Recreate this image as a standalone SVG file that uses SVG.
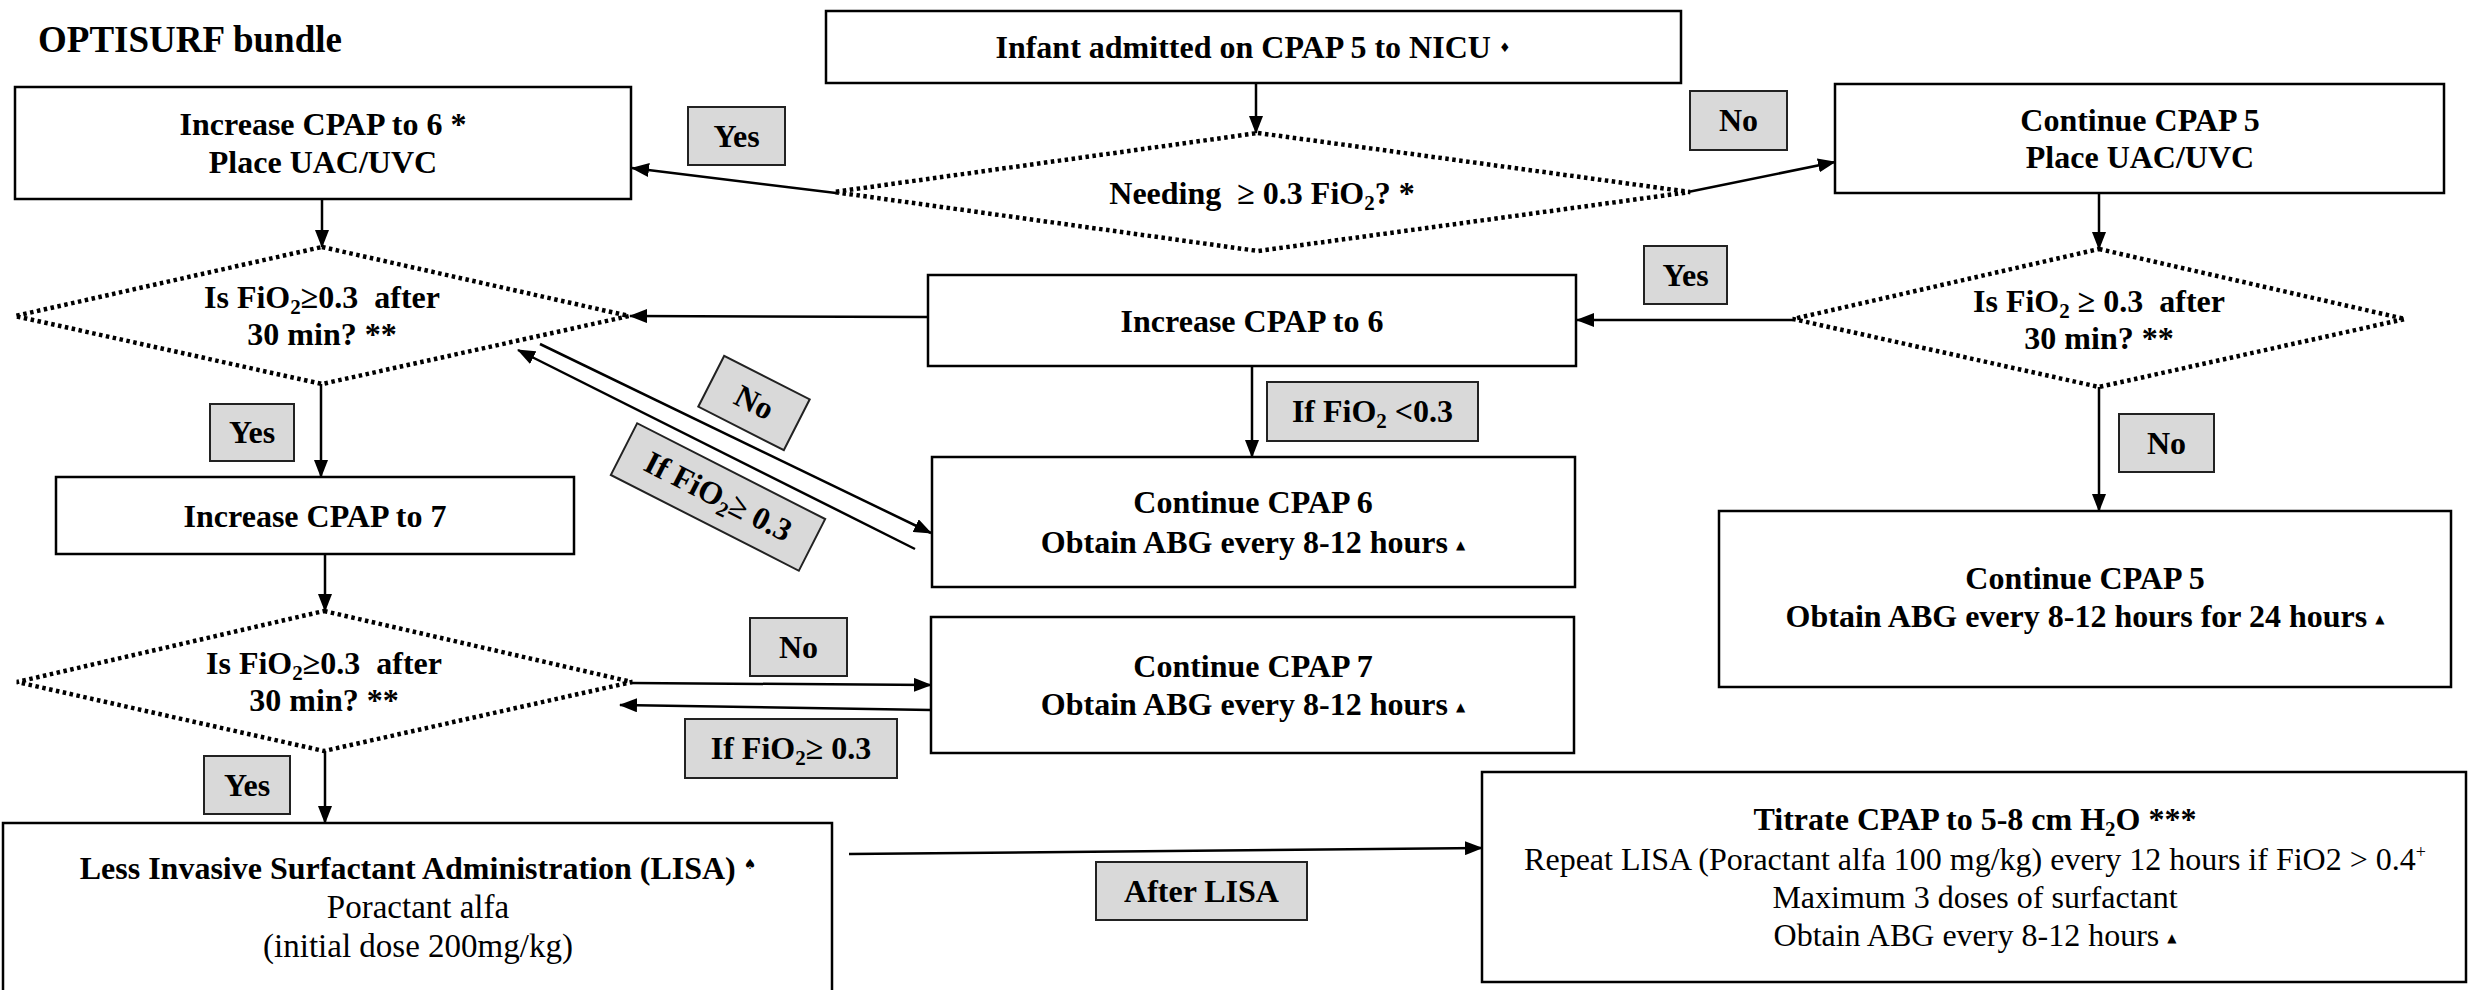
<svg xmlns="http://www.w3.org/2000/svg" width="2478" height="990" viewBox="0 0 2478 990">
<defs>
<marker id="ah" viewBox="0 0 18 14" refX="17" refY="7" markerWidth="18" markerHeight="14" markerUnits="userSpaceOnUse" orient="auto">
<path d="M0,0 L18,7 L0,14 z" fill="#000"/>
</marker>
<style>
.box{fill:#fff;stroke:#000;stroke-width:2.5}
.dia{fill:#fff;stroke:#000;stroke-width:4.5;stroke-dasharray:3.5 3.5}
.lbl{fill:#d9d9d9;stroke:#222;stroke-width:2}
.t{font-family:"Liberation Serif","Times New Roman",serif;font-size:32px;font-weight:bold;text-anchor:middle;fill:#000;white-space:pre}
.r{font-weight:normal}
.s{font-size:21px}
.sym{font-family:"DejaVu Sans",sans-serif;font-size:12px;font-weight:normal}
.c{fill:none;stroke:#000;stroke-width:2.5;marker-end:url(#ah)}
</style>
</defs>
<rect width="2478" height="990" fill="#fff"/>

<g id="title"><text class="t" x="38" y="52" style="font-size:37px;text-anchor:start">OPTISURF bundle</text></g>

<g id="nodes">
<g id="start">
<rect class="box" x="826" y="11" width="855" height="72"/>
<text class="t" x="1253" y="58">Infant admitted on CPAP 5 to NICU <tspan class="sym" style="font-size:13px" dy="-6">♦</tspan></text>
</g>
<g id="d1">
<polygon class="dia" points="1258,133 1690,192 1258,251 834,192"/>
<text class="t" x="1262" y="204">Needing  ≥ 0.3 FiO<tspan class="s" dy="6">2</tspan><tspan dy="-6">? *</tspan></text>
</g>
<g id="boxA">
<rect class="box" x="15" y="87" width="616" height="112"/>
<text class="t" x="323" y="135">Increase CPAP to 6 *</text>
<text class="t" x="323" y="173">Place UAC/UVC</text>
</g>
<g id="boxC">
<rect class="box" x="1835" y="84" width="609" height="109"/>
<text class="t" x="2140" y="131">Continue CPAP 5</text>
<text class="t" x="2140" y="168">Place UAC/UVC</text>
</g>
<g id="d2">
<polygon class="dia" points="322,247 629,316 322,384 15,316"/>
<text class="t" x="322" y="308">Is FiO<tspan class="s" dy="6">2</tspan><tspan dy="-6">≥0.3  after</tspan></text>
<text class="t" x="322" y="345">30 min? **</text>
</g>
<g id="d3">
<polygon class="dia" points="2099,249 2405,319 2099,387 1793,319"/>
<text class="t" x="2099" y="312">Is FiO<tspan class="s" dy="6">2</tspan><tspan dy="-6"> ≥ 0.3  after</tspan></text>
<text class="t" x="2099" y="349">30 min? **</text>
</g>
<g id="boxE">
<rect class="box" x="928" y="275" width="648" height="91"/>
<text class="t" x="1252" y="332">Increase CPAP to 6</text>
</g>
<g id="boxF">
<rect class="box" x="932" y="457" width="643" height="130"/>
<text class="t" x="1253" y="513">Continue CPAP 6</text>
<text class="t" x="1253" y="553">Obtain ABG every 8-12 hours <tspan class="sym" dy="-4">▲</tspan></text>
</g>
<g id="boxG">
<rect class="box" x="56" y="477" width="518" height="77"/>
<text class="t" x="315" y="527">Increase CPAP to 7</text>
</g>
<g id="d4">
<polygon class="dia" points="324,611 632,682 324,751 17,682"/>
<text class="t" x="324" y="674">Is FiO<tspan class="s" dy="6">2</tspan><tspan dy="-6">≥0.3  after</tspan></text>
<text class="t" x="324" y="711">30 min? **</text>
</g>
<g id="boxH">
<rect class="box" x="931" y="617" width="643" height="136"/>
<text class="t" x="1253" y="677">Continue CPAP 7</text>
<text class="t" x="1253" y="715">Obtain ABG every 8-12 hours <tspan class="sym" dy="-4">▲</tspan></text>
</g>
<g id="boxK">
<rect class="box" x="1719" y="511" width="732" height="176"/>
<text class="t" x="2085" y="589">Continue CPAP 5</text>
<text class="t" x="2085" y="627">Obtain ABG every 8-12 hours for 24 hours <tspan class="sym" dy="-4">▲</tspan></text>
</g>
<g id="boxI">
<rect class="box" x="3" y="823" width="829" height="190"/>
<text class="t" x="418" y="879">Less Invasive Surfactant Administration (LISA) <tspan class="sym" style="font-size:14px" dy="-10">♠</tspan></text>
<text class="t r" x="418" y="918" style="font-size:33px">Poractant alfa</text>
<text class="t r" x="418" y="957" style="font-size:33px">(initial dose 200mg/kg)</text>
</g>
<g id="boxJ">
<rect class="box" x="1482" y="772" width="984" height="210"/>
<text class="t" x="1975" y="830">Titrate CPAP to 5-8 cm H<tspan class="s" dy="6">2</tspan><tspan dy="-6">O ***</tspan></text>
<text class="t r" x="1975" y="870" style="font-size:32px">Repeat LISA (Poractant alfa 100 mg/kg) every 12 hours if FiO2 &gt; 0.4<tspan style="font-size:18px" dy="-12">+</tspan></text>
<text class="t r" x="1975" y="908" style="font-size:32px">Maximum 3 doses of surfactant</text>
<text class="t r" x="1975" y="946" style="font-size:32px">Obtain ABG every 8-12 hours <tspan class="sym" dy="-4">▲</tspan></text>
</g>
</g>

<g id="connectors">
<line class="c" x1="1256" y1="83" x2="1256" y2="133"/>
<line class="c" x1="836" y1="193" x2="632" y2="168"/>
<line class="c" x1="1688" y1="192" x2="1835" y2="162"/>
<line class="c" x1="322" y1="199" x2="322" y2="247"/>
<line class="c" x1="2099" y1="193" x2="2099" y2="249"/>
<line class="c" x1="1793" y1="320" x2="1577" y2="320"/>
<line class="c" x1="928" y1="317" x2="630" y2="316"/>
<line class="c" x1="1252" y1="366" x2="1252" y2="457"/>
<line class="c" x1="321" y1="384" x2="321" y2="477"/>
<line class="c" x1="540" y1="344" x2="931" y2="533"/>
<line class="c" x1="915" y1="549" x2="518" y2="350"/>
<line class="c" x1="325" y1="554" x2="325" y2="611"/>
<line class="c" x1="631" y1="683" x2="931" y2="685"/>
<line class="c" x1="931" y1="710" x2="620" y2="705"/>
<line class="c" x1="2099" y1="387" x2="2099" y2="511"/>
<line class="c" x1="325" y1="751" x2="325" y2="823"/>
<line class="c" x1="849" y1="854" x2="1482" y2="848"/>

<g id="lbl-yes1"><rect class="lbl" x="688" y="107" width="97" height="58"/><text class="t" x="736.5" y="147">Yes</text></g>
<g id="lbl-no1"><rect class="lbl" x="1690" y="91" width="97" height="59"/><text class="t" x="1738.5" y="131">No</text></g>
<g id="lbl-yes2"><rect class="lbl" x="1644" y="246" width="83" height="58"/><text class="t" x="1685.5" y="286">Yes</text></g>
<g id="lbl-lt"><rect class="lbl" x="1267" y="382" width="211" height="59"/><text class="t" x="1372.5" y="422">If FiO<tspan class="s" dy="6">2</tspan><tspan dy="-6"> &lt;0.3</tspan></text></g>
<g id="lbl-yes3"><rect class="lbl" x="210" y="404" width="84" height="57"/><text class="t" x="252" y="443">Yes</text></g>
<g id="lbl-no2" transform="translate(754,403) rotate(27)"><rect class="lbl" x="-48" y="-28.5" width="96" height="57"/><text class="t" x="0" y="10">No</text></g>
<g id="lbl-ge1" transform="translate(718,497) rotate(27)"><rect class="lbl" x="-105.5" y="-29" width="211" height="58"/><text class="t" x="0" y="10">If FiO<tspan class="s" dy="6">2</tspan><tspan dy="-6">≥ 0.3</tspan></text></g>
<g id="lbl-no3"><rect class="lbl" x="2119" y="414" width="95" height="58"/><text class="t" x="2166.5" y="454">No</text></g>
<g id="lbl-no4"><rect class="lbl" x="750" y="618" width="97" height="58"/><text class="t" x="798.5" y="658">No</text></g>
<g id="lbl-ge2"><rect class="lbl" x="685" y="719" width="212" height="59"/><text class="t" x="791" y="759">If FiO<tspan class="s" dy="6">2</tspan><tspan dy="-6">≥ 0.3</tspan></text></g>
<g id="lbl-yes4"><rect class="lbl" x="204" y="756" width="86" height="58"/><text class="t" x="247" y="796">Yes</text></g>
<g id="lbl-after"><rect class="lbl" x="1096" y="862" width="211" height="58"/><text class="t" x="1201.5" y="902">After LISA</text></g>
</g>
</svg>
